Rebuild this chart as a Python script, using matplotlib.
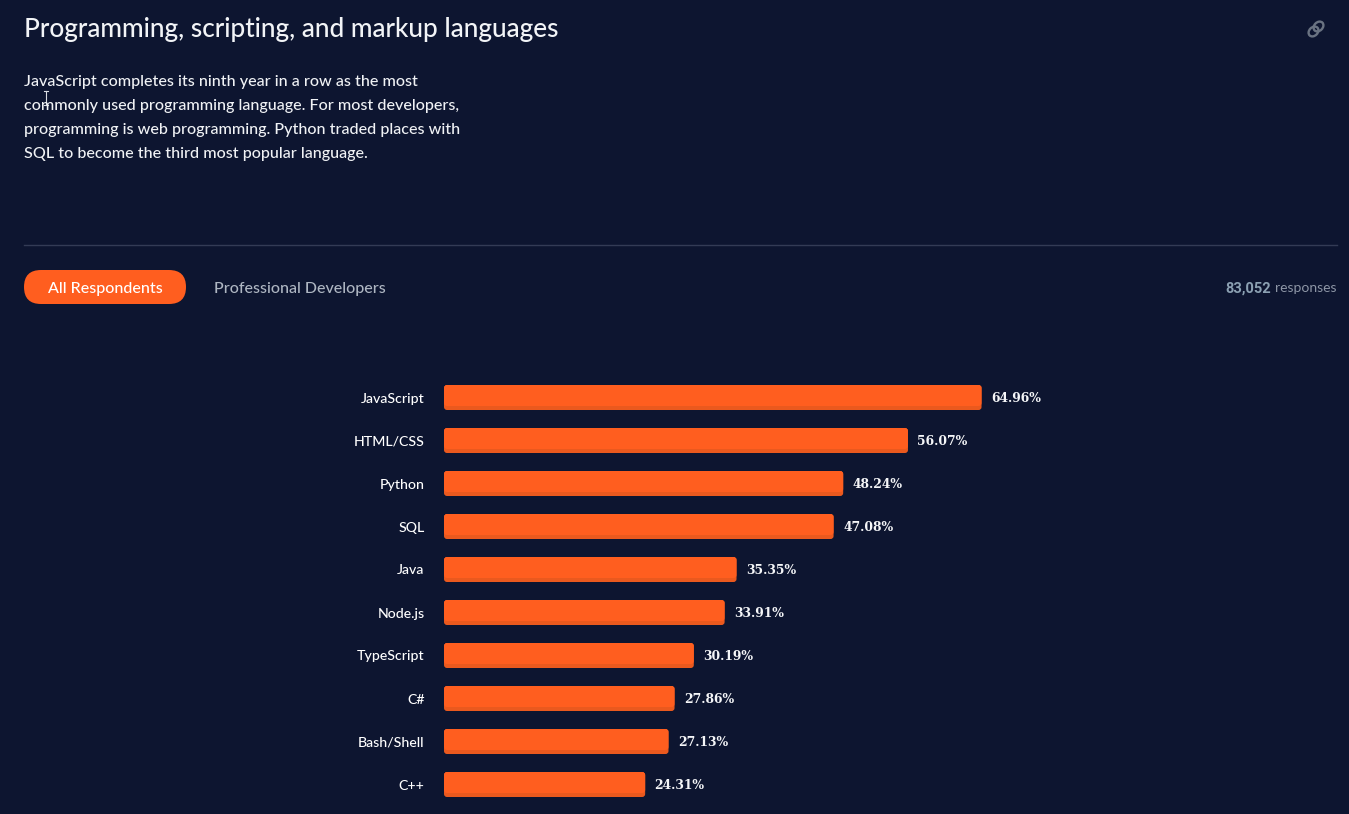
#!/usr/bin/env python3
import matplotlib
matplotlib.use("Agg")
import matplotlib.pyplot as plt
from matplotlib.patches import FancyBboxPatch, Ellipse

languages = ["JavaScript", "HTML/CSS", "Python", "SQL", "Java", "Node.js",
             "TypeScript", "C#", "Bash/Shell", "C++"]
shares = [64.96, 56.07, 48.24, 47.08, 35.35, 33.91, 30.19, 27.86, 27.13, 24.31]
title = "Programming, scripting, and markup languages"
intro = ["JavaScript completes its ninth year in a row as the most",
         "commonly used programming language. For most developers,",
         "programming is web programming. Python traded places with",
         "SQL to become the third most popular language."]

BG = "#0d1530"
ORANGE = "#ff5e1f"
DARK = "#ea591e"
W, H = 1349, 814
FONT = "Lato"
PX_PER_PCT = 8.275
ROW = 43

plt.rcParams["font.family"] = FONT
fig = plt.figure(figsize=(W / 100, H / 100), dpi=100, facecolor=BG)

# overlay in pixel coordinates for the page furniture
page = fig.add_axes([0, 0, 1, 1])
page.set_xlim(0, W)
page.set_ylim(H, 0)
page.axis("off")

page.text(24, 29, title, color="#f2f4f7", fontsize=18.95, fontweight="medium", va="center")
for i, line in enumerate(intro):
    page.text(24, 82 + i * 24, line, color="#f0f2f5", fontsize=11.65,
              fontweight="medium", va="center")

page.plot([24, 1337], [245, 245], color="#333b55", lw=1)
page.add_patch(FancyBboxPatch((24, 270), 162, 34,
                              boxstyle="round,pad=0,rounding_size=17",
                              fc=ORANGE, ec="none"))
page.text(105, 289, "All Respondents", color="white", fontsize=11.5,
          fontweight="medium", ha="center", va="center")
page.text(214.5, 289, "Professional Developers", color="#aeb6c2", fontsize=11.5,
          fontweight="medium", va="center")
page.text(1270.5, 288.5, "83,052", color="#8ba0b2", fontsize=10.5, fontweight="bold",
          ha="right", va="center", family="Roboto")
page.text(1337, 288.5, "responses", color="#8d96a6", fontsize=10, ha="right", va="center")

# link icon
for cx, cy in [(1313.5, 31.5), (1318.5, 26.5)]:
    page.add_patch(Ellipse((cx, cy), 11, 8.5, angle=-45, fc="none", ec="#6a7382", lw=1.7))

# text cursor
page.plot([45.5, 45.5], [91, 104], color="#d8dce2", lw=0.8)
page.plot([43.5, 47.5], [90.5, 90.5], color="#d8dce2", lw=0.8)
page.plot([43.5, 47.5], [104.5, 104.5], color="#d8dce2", lw=0.8)

# the chart itself
left, top = 444, 376
ax = fig.add_axes([left / W, 0, (W - left) / W, (H - top) / H])
ax.patch.set_alpha(0)
ax.set_xlim(0, (W - left) / PX_PER_PCT)
ax.set_ylim((H - 397.5) / ROW, (top - 397.5) / ROW)
for s in ax.spines.values():
    s.set_visible(False)
ax.tick_params(length=0, pad=14, labelbottom=False)
ax.set_yticks(range(len(languages)), languages, color="white", fontsize=10.2, fontweight="medium")

aspect = PX_PER_PCT / ROW
bar_h = 25 / ROW
lip = 4 / ROW
radius = 3 / PX_PER_PCT
for i, v in enumerate(shares):
    ax.add_patch(FancyBboxPatch((0, i - bar_h / 2), v, bar_h,
                                boxstyle=f"round,pad=0,rounding_size={radius}",
                                mutation_aspect=aspect, fc=DARK, ec="none"))
    ax.add_patch(FancyBboxPatch((0, i - bar_h / 2), v, bar_h - lip,
                                boxstyle=f"round,pad=0,rounding_size={radius}",
                                mutation_aspect=aspect, fc=ORANGE, ec="none"))
    ax.annotate(f"{v:.2f}%", (v, i + 0.03), xytext=(9.5, 0), textcoords="offset pixels",
                color="#f5f6f8", fontsize=8.9, fontweight="bold",
                family="DejaVu Serif", va="center", ha="left")

fig.savefig("out.png", dpi=100, facecolor=BG)
